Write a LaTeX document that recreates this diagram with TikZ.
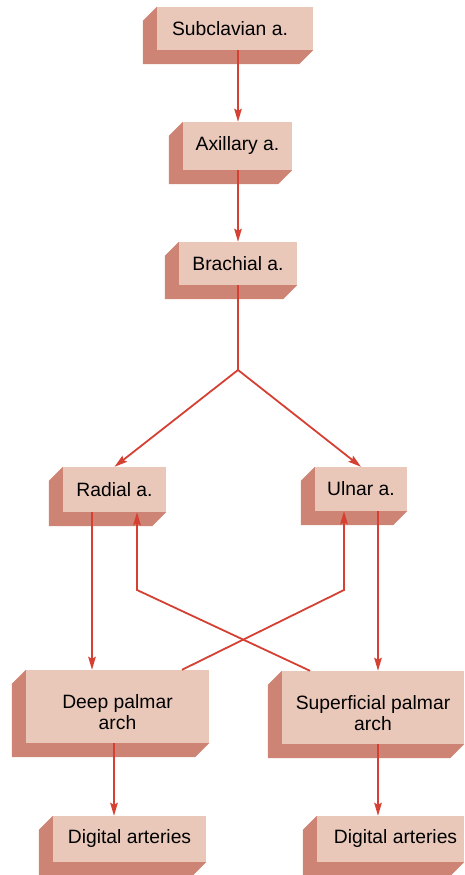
\documentclass[tikz,border=0pt]{standalone}
\usepackage{fontspec}
\setmainfont{Liberation Sans}
\usepackage{xcolor}
\usepackage{tikz}
\usetikzlibrary{positioning,arrows.meta}
\definecolor{facec}{RGB}{233,200,186}
\definecolor{shadec}{RGB}{205,132,116}
\definecolor{arrc}{RGB}{214,64,50}

\begin{document}
\begin{tikzpicture}[x=1pt,y=1pt,
  blk/.style={rectangle,fill=facec,inner sep=0pt,font=\fontsize{19.3}{21}\selectfont,align=center},
  arr/.style={-{Stealth[length=13pt,width=7.5pt,inset=2pt]},line width=1.8pt,color=arrc},
  ln/.style={line width=1.8pt,color=arrc}]
  \useasboundingbox (0,0) rectangle (464,875);
  % blocks (front faces)
  \node[blk,minimum width=156,minimum height=43](sub) at (235,846.5){Subclavian a.\hspace{10pt}};
  \node[blk,minimum width=109,minimum height=48](axi) at (237.5,729){Axillary a.};
  \node[blk,minimum width=118,minimum height=43](bra) at (238,611.5){Brachial a.};
  \node[blk,minimum width=103,minimum height=45](rad) at (114.5,385.5){Radial a.};
  \node[blk,minimum width=92,minimum height=44](uln) at (361,386){Ulnar a.};
  \node[blk,minimum width=183,minimum height=73](deep) at (117.5,168.5){\raisebox{-8pt}[\height][\depth]{\begin{tabular}{@{}c@{}}Deep palmar\\arch\end{tabular}}};
  \node[blk,minimum width=182,minimum height=73](sup) at (373,167.5){\raisebox{-8pt}[\height][\depth]{\begin{tabular}{@{}c@{}}Superficial palmar\\arch\end{tabular}}};
  \node[blk,minimum width=153,minimum height=46](digl) at (129.5,36){Digital arteries};
  \node[blk,minimum width=147,minimum height=46](digr) at (390.5,36){\hspace{10pt}Digital arteries};
  % extruded sides
  \foreach \n in {sub,axi,bra,rad,uln,deep,sup,digl,digr}
    \fill[shadec](\n.north west)--++(-14,-14)--([shift={(-14,-14)}]\n.south west)
      --([shift={(-14,-14)}]\n.south east)--(\n.south east)--(\n.south west)--cycle;
  % connectors
  \coordinate (split) at (238,505);
  \coordinate (bendr) at (137,285);
  \coordinate (bendu) at (344,285);
  \draw[arr]([xshift=0.5]axi.north |- sub.south)--([xshift=0.5]axi.north);
  \draw[arr]([xshift=0.5]axi.south)--([xshift=0.5]axi.south |- bra.north);
  \draw[ln](bra.south)--(split);
  \draw[arr](split)--(rad.north);\draw[arr](split)--(uln.north);
  \draw[arr]([xshift=-22.5]rad.south)--([xshift=-22.5]rad.south |- deep.north);
  \draw[arr]([xshift=17]uln.south)--([xshift=17]uln.south |- sup.north);
  \draw[arr]([xshift=-63]sup.north)--(bendr)--(bendr |- rad.south);
  \draw[arr]([xshift=64.5]deep.north)--(bendu)--(bendu |- uln.south);
  \draw[arr]([xshift=-3.5]deep.south)--([xshift=-3.5]deep.south |- digl.north);
  \draw[arr]([xshift=5]sup.south)--([xshift=5]sup.south |- digr.north);
\end{tikzpicture}
\end{document}
